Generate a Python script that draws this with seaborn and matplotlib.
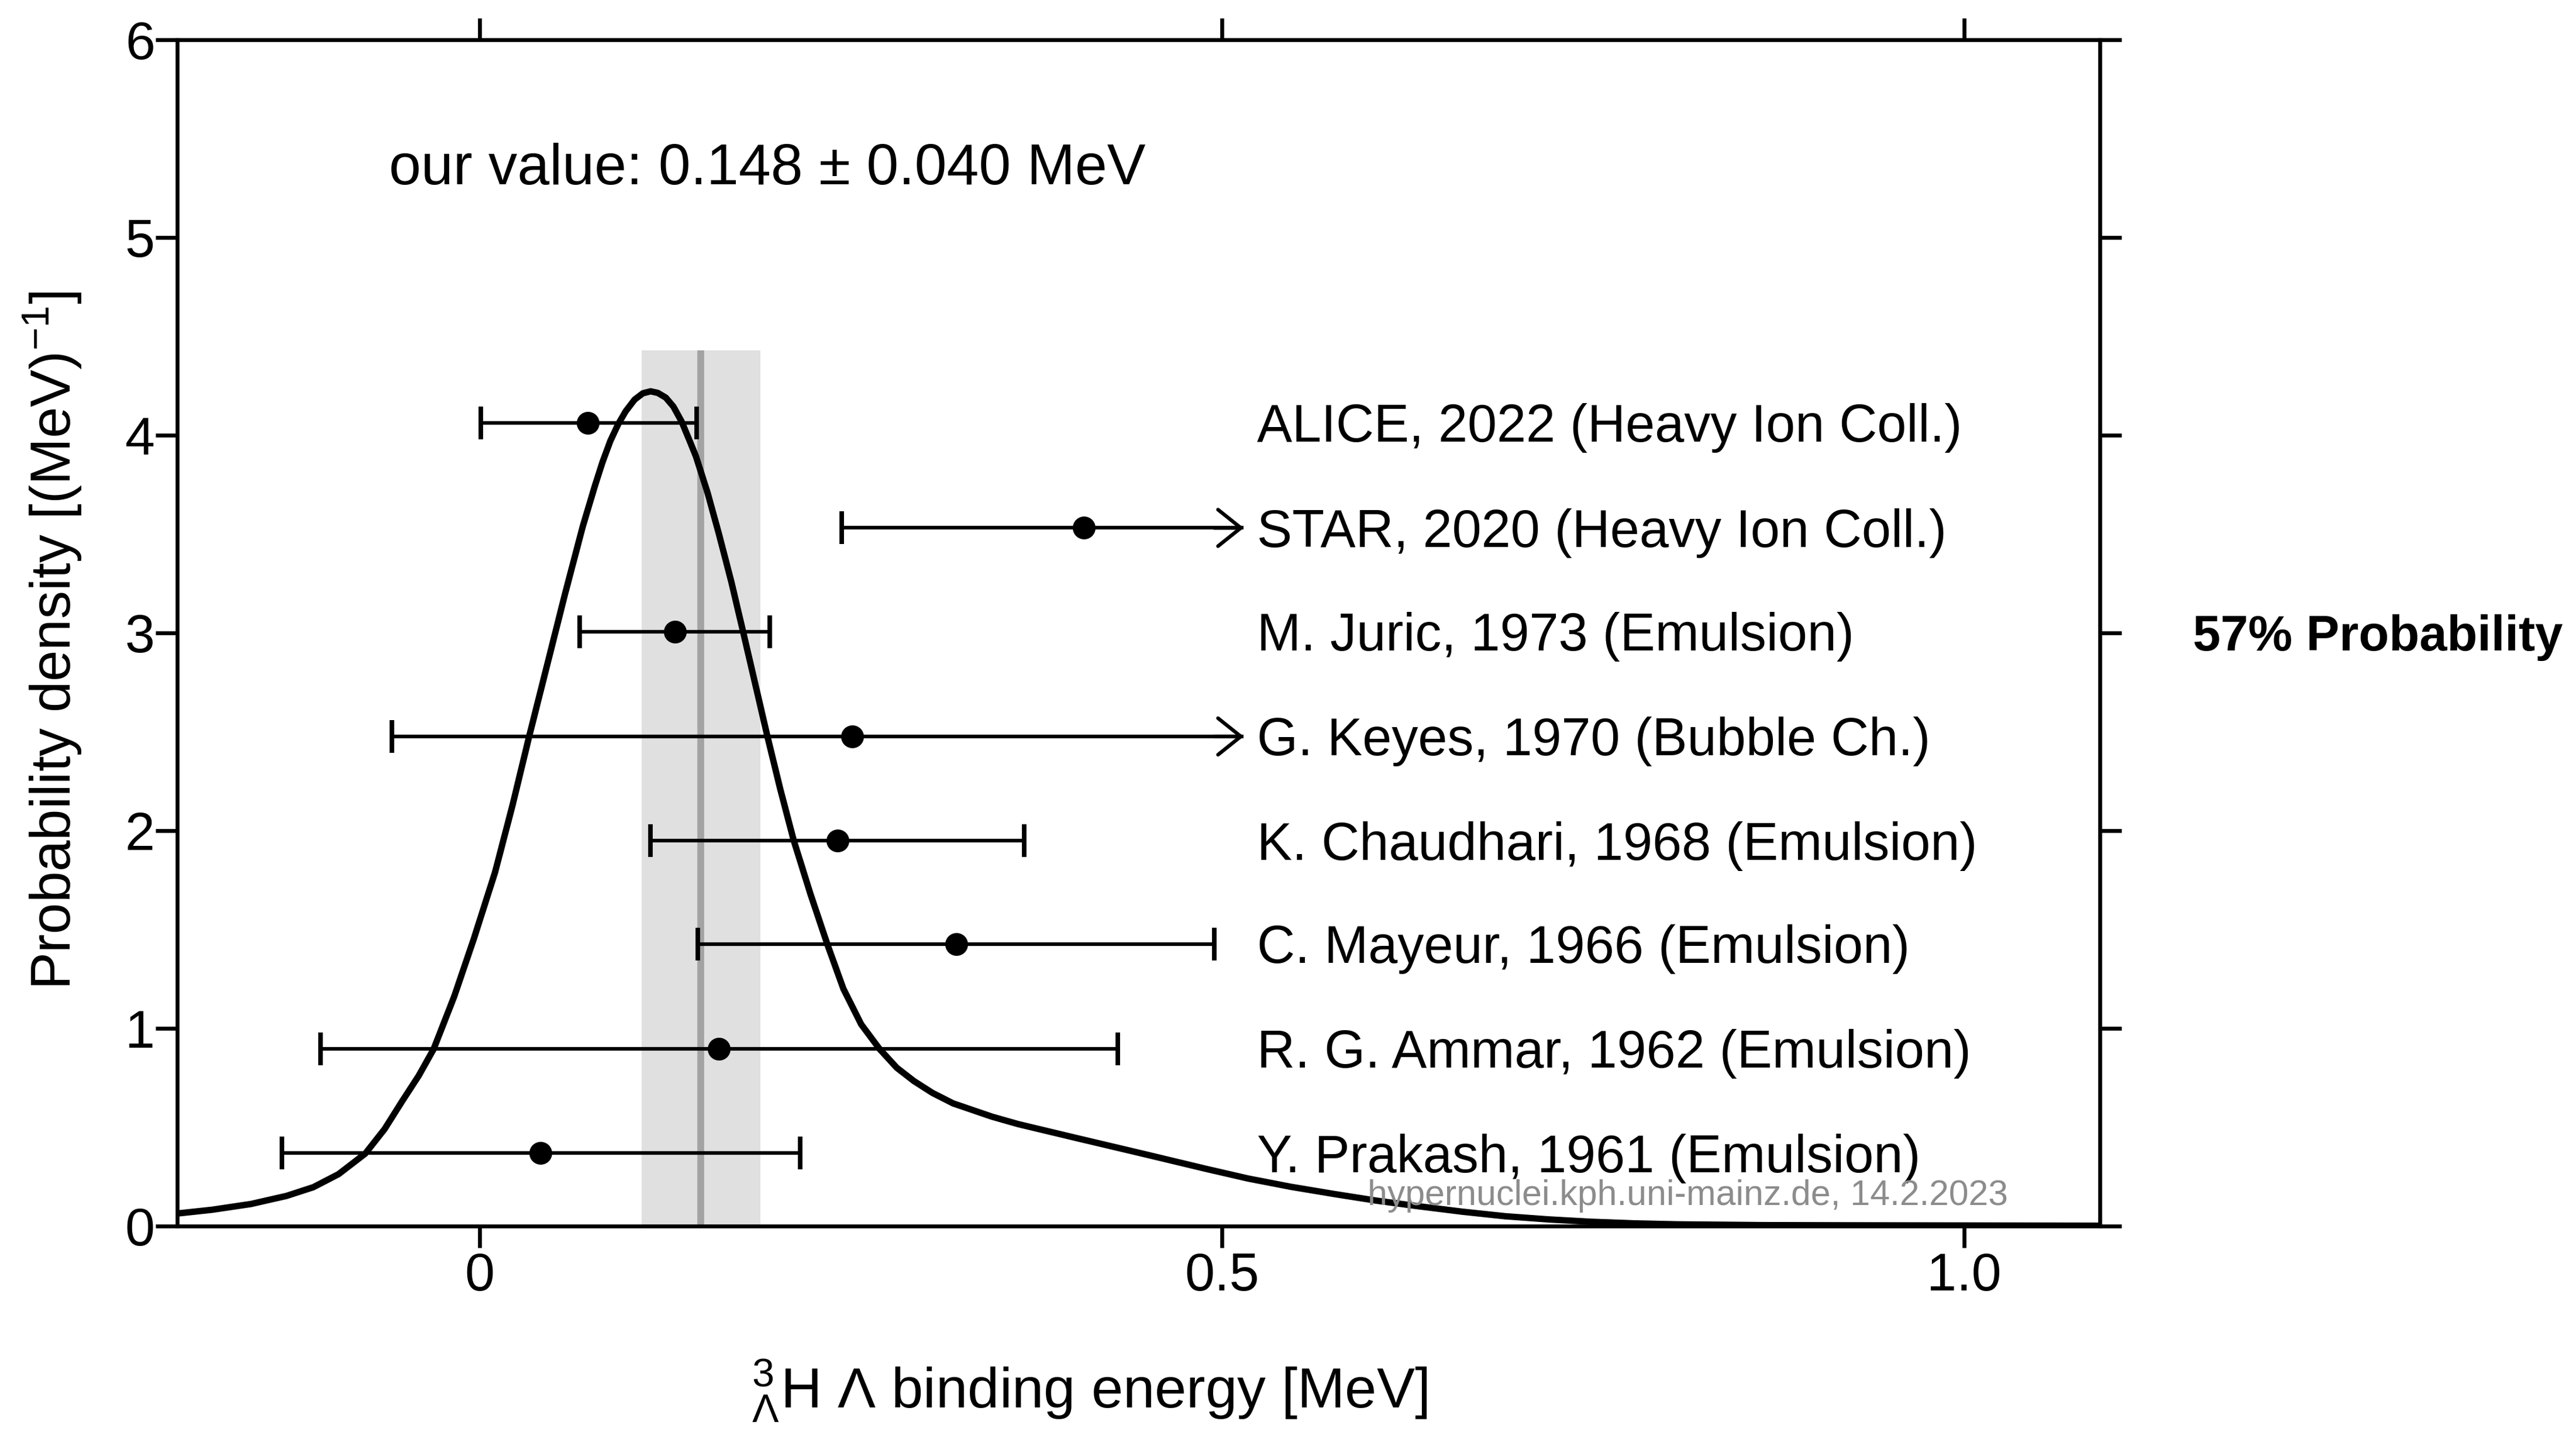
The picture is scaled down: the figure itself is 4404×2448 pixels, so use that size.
import matplotlib
matplotlib.use("Agg")
import matplotlib.pyplot as plt
import seaborn as sns

# ---------------- data ----------------
curve_x = [-0.2035, -0.18, -0.154, -0.13, -0.112, -0.095, -0.077, -0.064, -0.052,
           -0.041, -0.031, -0.0171, -0.004, 0.0104, 0.0222, 0.0334, 0.0445, 0.0576,
           0.0695, 0.0775, 0.0826, 0.0880, 0.0933, 0.0983, 0.1044, 0.110, 0.1152,
           0.120, 0.1254, 0.1305, 0.136, 0.141, 0.1457, 0.1535, 0.1612, 0.1695,
           0.1775, 0.1857, 0.1938, 0.2025, 0.2115, 0.2228, 0.2343, 0.2450, 0.2570,
           0.2694, 0.2810, 0.2925, 0.3050, 0.3189, 0.345, 0.3628, 0.4018, 0.4452,
           0.4597, 0.4886, 0.5175, 0.5464, 0.5752, 0.604, 0.633, 0.662, 0.6908,
           0.72, 0.7486, 0.7775, 0.8064, 0.864, 0.922, 1.0914]
curve_y = [0.063, 0.082, 0.111, 0.152, 0.196, 0.262, 0.366, 0.49, 0.633,
           0.76, 0.894, 1.161, 1.45, 1.789, 2.129, 2.477, 2.808, 3.199,
           3.539, 3.74, 3.86, 3.97, 4.055, 4.12, 4.18, 4.212, 4.222,
           4.214, 4.19, 4.145, 4.07, 3.98, 3.893, 3.71, 3.50, 3.26,
           3.005, 2.74, 2.478, 2.21, 1.952, 1.68, 1.423, 1.20, 1.02,
           0.895, 0.80, 0.733, 0.673, 0.620, 0.553, 0.515, 0.445, 0.368,
           0.342, 0.29, 0.24, 0.198, 0.162, 0.128, 0.099, 0.072, 0.049,
           0.033, 0.021, 0.013, 0.008, 0.004, 0.003, 0.001]

labels = ["ALICE, 2022 (Heavy Ion Coll.)", "STAR, 2020 (Heavy Ion Coll.)",
          "M. Juric, 1973 (Emulsion)", "G. Keyes, 1970 (Bubble Ch.)",
          "K. Chaudhari, 1968 (Emulsion)", "C. Mayeur, 1966 (Emulsion)",
          "R. G. Ammar, 1962 (Emulsion)", "Y. Prakash, 1961 (Emulsion)"]
row_y = [4.062, 3.531, 3.005, 2.476, 1.948, 1.425, 0.897, 0.368]
values = [0.073, 0.407, 0.1315, 0.251, 0.241, 0.321, 0.161, 0.041]
err_lo = [0.072, 0.163, 0.064, 0.310, 0.126, 0.174, 0.268, 0.174]
err_hi = [0.073, 0.0, 0.064, 0.0, 0.126, 0.174, 0.269, 0.175]
is_arrow = [False, True, False, True, False, False, False, False]
arrow_tip = 0.5147

our_value = 0.1491
our_err = 0.0399
band_top = 4.43

x_ticks = [0, 0.5, 1.0]
x_ticklabels = ["0", "0.5", "1.0"]
y_ticks = [0, 1, 2, 3, 4, 5, 6]
y_ticklabels = ["0", "1", "2", "3", "4", "5", "6"]

# ---------------- style ----------------
sns.set_theme(style="ticks")
plt.rcParams["font.family"] = ["Liberation Sans", "DejaVu Sans"]
plt.rcParams["mathtext.fontset"] = "custom"
plt.rcParams["mathtext.rm"] = "Liberation Sans"
plt.rcParams["mathtext.it"] = "Liberation Sans:italic"
plt.rcParams["mathtext.bf"] = "Liberation Sans:bold"
plt.rcParams["text.color"] = "black"
plt.rcParams["axes.labelcolor"] = "black"
plt.rcParams["xtick.color"] = "black"
plt.rcParams["ytick.color"] = "black"

W, H = 4404, 2448
DPI = 4404 / 15.68
fig = plt.figure(figsize=(W / DPI, H / DPI), dpi=DPI)
fig.patch.set_facecolor("white")

ax = fig.add_axes([0.0689, 0.1439, 0.8152 - 0.0689, 0.9722 - 0.1439])
ax.set_facecolor("white")
ax.set_xlim(-0.2035, 1.0914)
ax.set_ylim(0, 6)

# band of our value
ax.fill_betweenx([0, band_top], our_value - our_err, our_value + our_err,
                 color="#e0e0e0", lw=0, zorder=0)
ax.vlines(our_value, 0, band_top, color="#a3a3a3", lw=3.0, zorder=1)

# error bars (regular)
reg = [i for i in range(len(values)) if not is_arrow[i]]
ax.errorbar([values[i] for i in reg], [row_y[i] for i in reg],
            xerr=[[err_lo[i] for i in reg], [err_hi[i] for i in reg]],
            fmt="o", color="black", ms=9, elinewidth=1.6, capsize=7.2,
            capthick=2.0, zorder=2)

# error bars with arrow (upper side beyond the range)
arr = [i for i in range(len(values)) if is_arrow[i]]
ax_vals = [values[i] for i in arr]
eb = ax.errorbar(ax_vals, [row_y[i] for i in arr],
                 xerr=[[err_lo[i] for i in arr], [arrow_tip - values[i] for i in arr]],
                 fmt="o", color="black", ms=9, elinewidth=1.6, capsize=7.2,
                 capthick=2.0, zorder=2)
for cl in eb[1]:
    xd = cl.get_xdata()
    if len(xd) and abs(xd[0] - arrow_tip) < 1e-6:
        cl.set_visible(False)
for i in arr:
    ax.annotate("", xy=(arrow_tip, row_y[i]), xytext=(arrow_tip - 0.02, row_y[i]),
                arrowprops=dict(arrowstyle="->,head_length=0.5,head_width=0.4",
                                mutation_scale=20, lw=1.6, color="black",
                                shrinkA=0, shrinkB=0), zorder=2)

# probability density curve
sns.lineplot(x=curve_x, y=curve_y, ax=ax, color="black", lw=2.8,
             sort=False, estimator=None, zorder=3)

# row labels
FS = 23.1
for lab, yy in zip(labels, row_y):
    ax.annotate(lab, xy=(0.5235, yy), xytext=(0, -0.358 * FS),
                textcoords="offset points", va="baseline", ha="left",
                fontsize=FS, color="black", zorder=4)

ax.text(-0.061, 5.27, "our value: 0.148 \u00b1 0.040 MeV", fontsize=25.3,
        ha="left", va="baseline", color="black")

ax.text(0.598, 0.106, "hypernuclei.kph.uni-mainz.de, 14.2.2023", fontsize=15.6,
        ha="left", va="baseline", color="#8c8c8c", zorder=5)

ax.annotate("57% Probability", xy=(1.154, 3.0), xytext=(0, -0.358 * 21.8),
            textcoords="offset points", va="baseline", ha="left",
            fontsize=21.8, fontweight="bold", color="black",
            annotation_clip=False)

# axes styling
for s in ax.spines.values():
    s.set_visible(True)
    s.set_linewidth(1.7)
    s.set_color("black")
ax.set_xticks(x_ticks)
ax.set_xticklabels(x_ticklabels)
ax.set_yticks(y_ticks)
ax.set_yticklabels(y_ticklabels)
ax.tick_params(axis="both", which="major", direction="out", length=9.4, width=1.7,
               color="black", labelsize=23.5, labelcolor="black",
               top=True, right=True, labeltop=False, labelright=False)
ax.tick_params(axis="y", pad=0.5)
ax.tick_params(axis="x", pad=2.0)
ax.grid(False)

ax.set_xlabel("${}^{3}_{\\Lambda}$H \u039b binding energy [MeV]", fontsize=25,
              color="black")
ax.xaxis.label.set_va("baseline")
ax.xaxis.set_label_coords(0.4745, -0.1535)

ax.set_ylabel(r"Probability density [(MeV)$^{-1}$]", fontsize=24.6, color="black")
ax.yaxis.label.set_va("baseline")
ax.yaxis.set_label_coords(-0.0555, 0.4934)

fig.savefig("out.png", dpi=DPI, facecolor="white")
